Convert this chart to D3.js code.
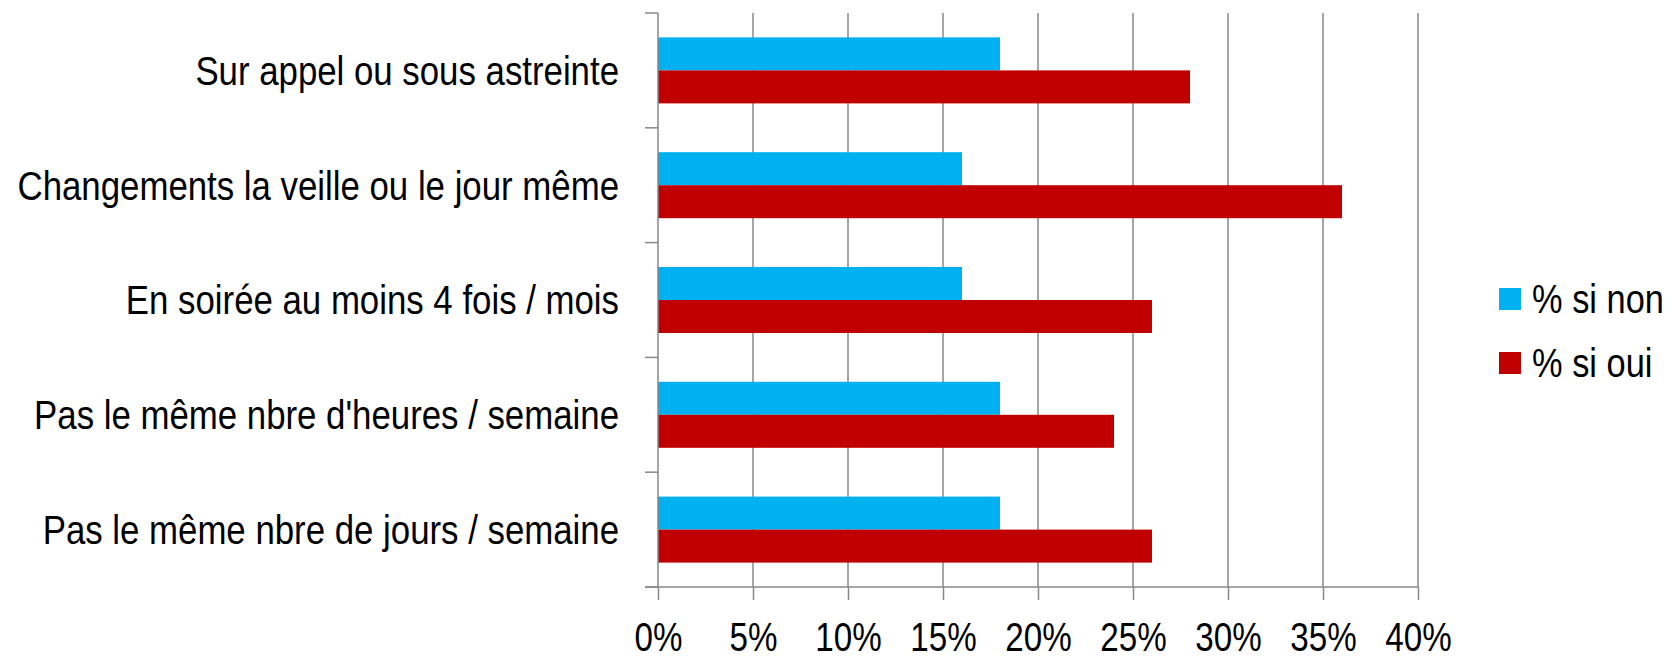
<!DOCTYPE html>
<html>
<head>
<meta charset="utf-8">
<script src="https://cdn.jsdelivr.net/npm/d3@7"></script>
<style>
  html, body { margin: 0; padding: 0; background: #ffffff; }
  svg { display: block; }
  text { font-family: "Liberation Sans", Arial, sans-serif; fill: #000; }
</style>
</head>
<body>
<svg id="chart" width="1677" height="657"></svg>
<script>
// Situations (top to bottom)
const categories = [
  "Sur appel ou sous astreinte",
  "Changements la veille ou le jour même",
  "En soirée au moins 4 fois / mois",
  "Pas le même nbre d'heures / semaine",
  "Pas le même nbre de jours / semaine"
];
const seriesNames = ["% si non", "% si oui"];
const valuesNon = [18, 16, 16, 18, 18];
const valuesOui = [28, 36, 26, 24, 26];
const tickValues = [0, 5, 10, 15, 20, 25, 30, 35, 40];
const tickLabels = ["0%", "5%", "10%", "15%", "20%", "25%", "30%", "35%", "40%"];

const colors = { "% si non": "#00B0F0", "% si oui": "#C00000" };
const gridColor = "#898989";
// Condensed lettering: regular sans squeezed horizontally
const narrowCat = 0.87;
const narrowTick = 0.83;
const narrowLegend = 0.86;

const svg = d3.select("#chart");

const plot = { left: 658, right: 1418, top: 13, bottom: 587 };

const x = d3.scaleLinear().domain([0, 40]).range([plot.left, plot.right]);
const y = d3.scaleBand().domain(categories).range([plot.top, plot.bottom])
  .paddingInner(0.425).paddingOuter(0.2125);
const ySub = d3.scaleBand().domain(seriesNames).range([0, y.bandwidth()]);

// Vertical gridlines
svg.append("g").selectAll("line")
  .data(tickValues.slice(1))
  .join("line")
  .attr("x1", d => x(d)).attr("x2", d => x(d))
  .attr("y1", plot.top).attr("y2", plot.bottom)
  .attr("stroke", gridColor).attr("stroke-width", 1.5);

const xAxis = d3.axisBottom(x)
  .tickValues(tickValues)
  .tickFormat((d, i) => tickLabels[i])
  .tickSize(13)
  .tickPadding(23)
  .tickSizeOuter(0);

const gx = svg.append("g")
  .attr("transform", `translate(0,${plot.bottom})`)
  .call(xAxis);
gx.attr("font-family", null).attr("font-size", null);
gx.select(".domain").remove();
gx.selectAll(".tick line").attr("stroke", gridColor).attr("stroke-width", 1.5);
gx.selectAll(".tick text")
  .attr("font-size", 40)
  .attr("fill", "#000")
  .attr("transform", `scale(${narrowTick},1)`);

// Horizontal baseline extending left past the category axis
svg.append("line")
  .attr("x1", plot.left - 13).attr("x2", plot.right)
  .attr("y1", plot.bottom).attr("y2", plot.bottom)
  .attr("stroke", gridColor).attr("stroke-width", 1.5);

// Bars
const rows = categories.map((c, i) => ({ cat: c, vals: [
  { name: seriesNames[0], v: valuesNon[i] },
  { name: seriesNames[1], v: valuesOui[i] }
]}));

svg.append("g").selectAll("g")
  .data(rows)
  .join("g")
  .attr("transform", d => `translate(0,${y(d.cat)})`)
  .selectAll("rect")
  .data(d => d.vals)
  .join("rect")
  .attr("x", x(0))
  .attr("y", d => ySub(d.name))
  .attr("width", d => x(d.v) - x(0))
  .attr("height", ySub.bandwidth())
  .attr("fill", d => colors[d.name]);

// Category axis on the left, ticks between categories
const boundaries = d3.range(categories.length + 1).map(i => plot.top + i * y.step());
svg.append("line")
  .attr("x1", plot.left).attr("x2", plot.left)
  .attr("y1", plot.top).attr("y2", plot.bottom)
  .attr("stroke", gridColor).attr("stroke-width", 1.5);
svg.append("g").selectAll("line")
  .data(boundaries)
  .join("line")
  .attr("x1", plot.left - 13).attr("x2", plot.left)
  .attr("y1", d => d).attr("y2", d => d)
  .attr("stroke", gridColor).attr("stroke-width", 1.5);

svg.append("g").selectAll("text")
  .data(categories)
  .join("text")
  .attr("transform", d => `translate(${plot.left - 39},${y(d) + y.bandwidth() / 2}) scale(${narrowCat},1)`)
  .attr("dy", "0.36em")
  .attr("text-anchor", "end")
  .attr("font-size", 40)
  .text(d => d);

// Legend
const legend = svg.append("g").attr("transform", "translate(1499,288)");
const li = legend.selectAll("g")
  .data(seriesNames)
  .join("g")
  .attr("transform", (d, i) => `translate(0,${i * 64})`);
li.append("rect")
  .attr("width", 22).attr("height", 22)
  .attr("fill", d => colors[d]);
li.append("text")
  .attr("transform", `translate(33,11) scale(${narrowLegend},1)`)
  .attr("dy", "0.36em")
  .attr("font-size", 40)
  .text(d => d);
</script>
</body>
</html>
